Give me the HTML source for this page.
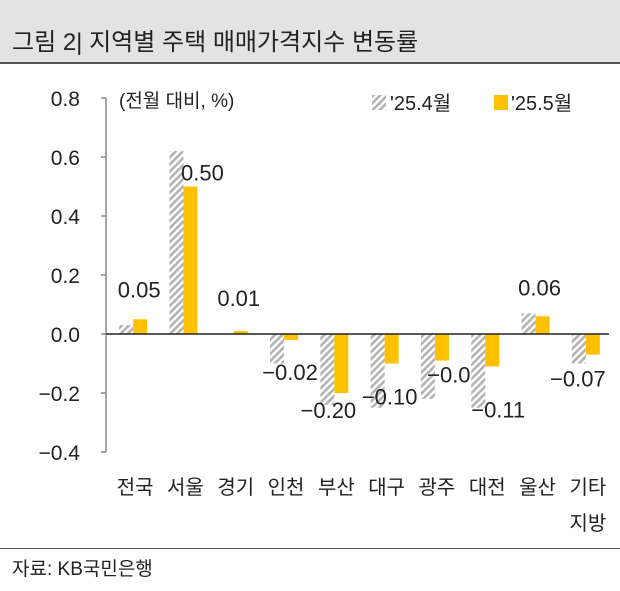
<!DOCTYPE html>
<html><head><meta charset="utf-8">
<style>
body{margin:0;background:#fff;font-family:"Liberation Sans","Noto Sans CJK KR",sans-serif;}
#wrap{position:relative;width:620px;height:591px;overflow:hidden;}
#hdr{position:absolute;left:0;top:0;width:620px;height:62px;background:#e3e3e3;border-bottom:2px solid #555;}
#title{position:absolute;left:12px;top:22px;font-size:24px;color:#222;}
#src{position:absolute;left:0;top:548px;width:620px;border-top:1.5px solid #555;}
#srct{position:absolute;left:12px;top:554px;font-size:19px;color:#222;}
svg{position:absolute;left:0;top:0;}
</style></head><body>
<div id="wrap">
<div id="hdr"><div id="title">그림 2| 지역별 주택 매매가격지수 변동률</div></div>
<div id="src"></div>
<div id="srct">자료: KB국민은행</div>
<svg id="chart" width="620" height="591">
<defs><pattern id="hatch" width="5" height="5" patternUnits="userSpaceOnUse" patternTransform="rotate(45)"><rect width="5" height="5" fill="#fff"/><rect width="2.6" height="5" fill="#b3b3b3"/></pattern></defs>
</svg>
</div>
<script>
const categories=["전국","서울","경기","인천","부산","대구","광주","대전","울산","기타"];
const apr=[0.03,0.62,0.0,-0.10,-0.24,-0.25,-0.22,-0.25,0.07,-0.10];
const may=[0.05,0.50,0.01,-0.02,-0.20,-0.10,-0.09,-0.11,0.06,-0.07];
const mayLabels=["0.05","0.50","0.01","−0.02","−0.20","−0.10","−0.09","−0.11","0.06","−0.07"];
const yTicks=[0.8,0.6,0.4,0.2,0.0,-0.2,-0.4];
const yTickLabels=["0.8","0.6","0.4","0.2","0.0","−0.2","−0.4"];
// label offsets (styling only)
const ldx=[-1,12,-2,-1,-13,-2,13,6,-3,-15];
const ldy=[-22,-6,-25,40,25,41,22,51,-21,32];
const svg=document.getElementById('chart');
const NS="http://www.w3.org/2000/svg";
const x0=106,x1=609,yMin=-0.4,yMax=0.8,pyTop=98,pyBot=452;
const y=v=>pyBot-(v-yMin)/(yMax-yMin)*(pyBot-pyTop);
const bw=(x1-x0)/categories.length;
const cx=i=>x0+bw*(i+0.5);
function mk(tag,attrs,txt){const e=document.createElementNS(NS,tag);for(const k in attrs)e.setAttribute(k,attrs[k]);if(txt!==undefined)e.textContent=txt;svg.appendChild(e);return e;}
let e=mk('line',{x1:x0,y1:pyTop,x2:x0,y2:pyBot,stroke:'#888','stroke-width':1.5});


yTicks.forEach((t,i)=>{
 let tk=mk('line',{x1:x0-5,y1:y(t),x2:x0,y2:y(t),stroke:'#888','stroke-width':1.5});
 
 
 let tl=mk('text',{x:x0-26,y:y(t)+8,'text-anchor':'end','font-size':21,fill:'#222'},yTickLabels[i]);
 
 
});
categories.forEach((c,i)=>{
 const xc=cx(i)+2;
 let a=apr[i];
 let r1=mk('rect',{x:xc-14,y:Math.min(y(a),y(0)),width:14,height:Math.abs(y(a)-y(0)),fill:'url(#hatch)'});
 
 
 let m=may[i];
 let r2=mk('rect',{x:xc,y:Math.min(y(m),y(0)),width:14,height:Math.max(Math.abs(y(m)-y(0)),1.5),fill:'#ffc000'});
 
 
 let vl=mk('text',{x:xc+7+ldx[i],y:y(m)+ldy[i],'text-anchor':'middle','font-size':22,fill:'#222'},mayLabels[i]);
 
 
 let xl=mk('text',{x:cx(i)+4,y:494,'text-anchor':'middle','font-size':20,fill:'#222'},c);
 
 
});
let x2=mk('text',{x:cx(9)+4,y:530,'text-anchor':'middle','font-size':20,fill:'#222'},'지방');


let zl=mk('line',{x1:x0,y1:y(0),x2:x1,y2:y(0),stroke:'#222','stroke-width':1.5});


let u=mk('text',{x:119,y:107,'font-size':19,fill:'#222'},'(전월 대비, %)');


let l1=mk('rect',{x:372,y:95,width:14,height:15,fill:'url(#hatch)'});


let lt1=mk('text',{x:390,y:110,'font-size':20,fill:'#222'},"'25.4월");


let l2=mk('rect',{x:494,y:95,width:14,height:15,fill:'#ffc000'});


let lt2=mk('text',{x:511,y:110,'font-size':20,fill:'#222'},"'25.5월");


</script>
</body></html>
